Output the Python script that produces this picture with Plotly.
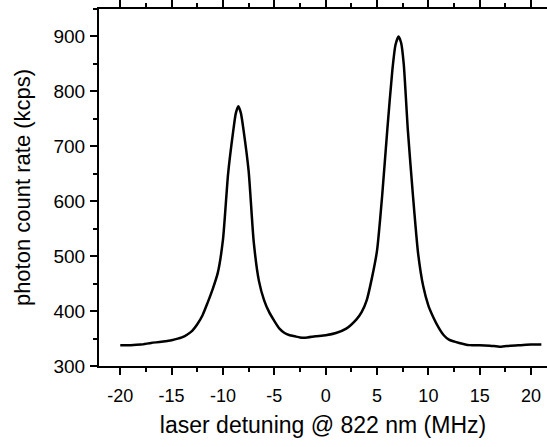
import plotly.graph_objects as go

detuning = [-20, -19, -18, -17, -16, -15, -14, -13.5, -13, -12.5, -12, -11.5, -11, -10.5,
            -10, -9.5, -9, -8.75, -8.5, -8.25, -8, -7.5, -7, -6.5, -6, -5.5, -5, -4.5, -4,
            -3.5, -3, -2.5, -2, -1, 0, 1, 2, 3, 3.5, 4, 4.5, 5, 5.5, 6, 6.5, 6.8, 7.1, 7.35, 7.6,
            8, 8.5, 9, 9.5, 10, 10.5, 11, 11.5, 12, 13, 14, 15, 16, 17, 18, 19, 20, 21]
count_rate = [338, 338, 339, 342, 344, 347, 352, 357, 364, 376, 392, 415, 440, 470,
              530, 650, 728, 760, 773, 760, 730, 655, 525, 455, 420, 398, 382, 368, 360,
              356, 354, 352, 351.5, 354, 356, 360, 368, 385, 398, 420, 460, 510, 610, 730, 840, 885, 900, 888, 850,
              730, 610, 505, 445, 410, 388, 370, 356, 348, 342, 338, 338, 337, 335, 337, 338, 339, 339]

x_ticks = [-20, -15, -10, -5, 0, 5, 10, 15, 20]
y_ticks = [300, 400, 500, 600, 700, 800, 900]

fig = go.Figure()
fig.add_trace(go.Scatter(x=detuning, y=count_rate, mode="lines",
                         line=dict(color="black", width=2.5, shape="spline", smoothing=0.6),
                         showlegend=False))

font = dict(family="Liberation Sans, Arial, sans-serif", color="black")
fig.update_layout(
    width=547, height=447,
    margin=dict(l=99, r=0, t=4, b=81),
    plot_bgcolor="white", paper_bgcolor="white",
    font=dict(**font, size=18),
    xaxis=dict(range=[-22.07, 21.55], tickvals=x_ticks, ticktext=[str(v) for v in x_ticks],
               ticks="outside", ticklen=7, tickwidth=2, tickcolor="black",
               minor=dict(dtick=2.5, tick0=0, ticks="outside", ticklen=4, tickwidth=2, tickcolor="black"),
               showline=True, linewidth=2, linecolor="black", mirror="ticks",
               showgrid=False, zeroline=False, ticklabelstandoff=5,
               title=dict(text="laser detuning @ 822 nm (MHz)", font=dict(size=23), standoff=12),
               tickfont=dict(size=18)),
    yaxis=dict(range=[300, 950], tickvals=y_ticks, ticktext=[str(v) for v in y_ticks],
               ticks="outside", ticklen=7, tickwidth=2, tickcolor="black",
               minor=dict(dtick=50, tick0=0, ticks="outside", ticklen=4, tickwidth=2, tickcolor="black"),
               showline=True, linewidth=2, linecolor="black", mirror=False,
               showgrid=False, zeroline=False, ticklabelstandoff=1,
               title=dict(text="photon count rate (kcps)", font=dict(size=22), standoff=17),
               tickfont=dict(size=19)),
)

fig.write_html("out.html")
